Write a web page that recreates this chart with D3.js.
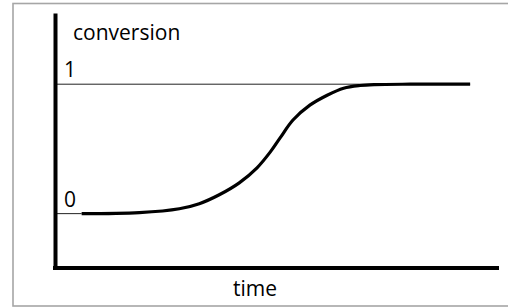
<!DOCTYPE html>
<html>
<head>
<meta charset="utf-8">
<script src="https://cdn.jsdelivr.net/npm/d3@7"></script>
<style>
  html, body { margin: 0; padding: 0; background: #fff; }
  svg { display: block; }
  text { font-family: "Open Sans", sans-serif; fill: #000; }
</style>
</head>
<body>
<div id="chart"></div>
<script>
// values
const time = [6, 19, 28, 32.5, 37, 41.5, 45.5, 48.5, 50.7, 53.6, 57.4, 61.3, 65, 68.7, 72, 80, 93.5];
const conversion = [0, 0.008, 0.038, 0.077, 0.146, 0.238, 0.354, 0.477, 0.585, 0.723, 0.838, 0.915, 0.969, 0.99, 0.997, 1, 1];
const tickValues = [0, 1];
const tickLabels = ["0", "1"];
const xLabel = "time";
const yLabel = "conversion";

const width = 508, height = 308;

const svg = d3.select("#chart")
  .append("svg")
  .attr("width", width)
  .attr("height", height);

// grey frame round the picture
svg.append("rect")
  .attr("x", 13)
  .attr("y", 3.5)
  .attr("width", 500)
  .attr("height", 302.5)
  .attr("fill", "none")
  .attr("stroke", "#a6a6a6")
  .attr("stroke-width", 1.6);

const x = d3.scaleLinear()
  .domain([0, 100])
  .range([55, 499]);

const y = d3.scaleLinear()
  .domain([-0.42, 1.55])
  .range([268, 13]);

const data = time.map((t, i) => ({ t: t, v: conversion[i] }));

// thin level lines for 0 and 1
svg.selectAll(".level")
  .data(tickValues)
  .enter()
  .append("line")
  .attr("class", "level")
  .attr("x1", x(0))
  .attr("x2", (d, i) => i === 0 ? x(time[0]) : x(time[time.length - 1]))
  .attr("y1", d => y(d))
  .attr("y2", d => y(d))
  .attr("stroke", "#222")
  .attr("stroke-width", 1);

// level labels
svg.selectAll(".tick-label")
  .data(tickValues)
  .enter()
  .append("text")
  .attr("class", "tick-label")
  .attr("x", x(0) + 9)
  .attr("y", d => y(d) - 7)
  .attr("font-size", 21)
  .text((d, i) => tickLabels[i]);

// the s-curve
const line = d3.line()
  .x(d => x(d.t))
  .y(d => y(d.v))
  .curve(d3.curveCatmullRom.alpha(0.5));

svg.append("path")
  .datum(data)
  .attr("d", line)
  .attr("fill", "none")
  .attr("stroke", "#000")
  .attr("stroke-width", 3.2)
  .attr("stroke-linecap", "butt");

// thick axes, no ticks
const yAxis = svg.append("g")
  .attr("transform", "translate(" + x(0) + ",0)")
  .call(d3.axisLeft(y).tickValues([]).tickSizeOuter(0));
yAxis.select(".domain").attr("stroke", "#000").attr("stroke-width", 4);

const xAxis = svg.append("g")
  .attr("transform", "translate(0," + y.range()[0] + ")")
  .call(d3.axisBottom(x).tickValues([]).tickSizeOuter(0));
xAxis.select(".domain").attr("stroke", "#000").attr("stroke-width", 4)
  .attr("d", "M" + (x(0) - 2) + ",0H" + x(100));

// axis titles
svg.append("text")
  .attr("x", 73)
  .attr("y", 40)
  .attr("font-size", 21)
  .text(yLabel);

svg.append("text")
  .attr("x", 255)
  .attr("y", 296)
  .attr("text-anchor", "middle")
  .attr("font-size", 21)
  .text(xLabel);
</script>
</body>
</html>
